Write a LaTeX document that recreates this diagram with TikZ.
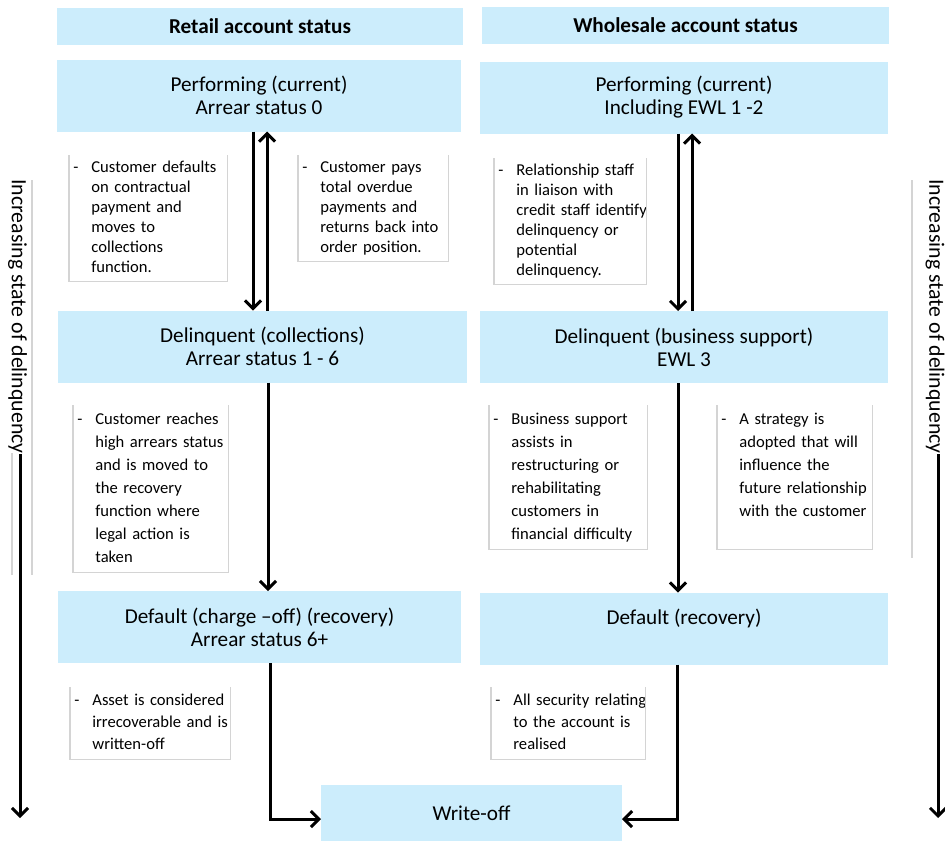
\documentclass[tikz,border=0pt]{standalone}
\usepackage{fontspec}
\setmainfont{Carlito}
\usepackage{xcolor}
\definecolor{stblue}{RGB}{204,237,252}
\definecolor{stgray}{RGB}{212,212,212}
\usetikzlibrary{arrows.meta}

\newcommand{\notelist}[1]{\begin{tabular}{@{}p{9pt}@{}l@{}}-&#1\end{tabular}}

\begin{document}
\begin{tikzpicture}[x=0.5pt, y=-0.5pt,
  sbox/.style={rectangle, fill=stblue, minimum width=#1, minimum height=36pt,
               inner sep=0pt, outer sep=0pt, align=center, font=\fontsize{10.6}{11.5}\selectfont},
  hbox/.style={sbox=#1, minimum height=18.5pt, font=\bfseries\fontsize{10.6}{12}\selectfont},
  note/.style={anchor=north west, text width=#1, align=left, inner xsep=2pt, inner ysep=1.5pt,
               font=\fontsize{8.3}{10}\selectfont},
  loose/.style={font=\fontsize{8.3}{#1}\selectfont},
  frame/.style={draw=stgray, line width=0.6pt},
  arr/.style={line width=1.5pt, -{Straight Barb[length=4pt,width=8pt]}},
  sidetxt/.style={rotate=-90, inner sep=0pt, font=\fontsize{10.9}{12}\selectfont}
]
\useasboundingbox (0,0) rectangle (945,841);

% Headers
\node[hbox=203pt] (rhead) at (260,26.5) {Retail account status};
\node[hbox=203.5pt] (whead) at (685.5,25.5) {Wholesale account status};

% Retail states
\node[sbox=202pt] (rperf) at (259,95.5) {Performing (current)\\Arrear status 0};
\node[sbox=204.5pt] (rdel) at (262.5,346.5) {Delinquent (collections)\\Arrear status 1 - 6};
\node[sbox=201.5pt] (rdef) at (259.5,627) {Default (charge --off) (recovery)\\Arrear status 6+};

% Wholesale states
\node[sbox=204pt] (wperf) at (684,97.5) {Performing (current)\\Including EWL 1 -2};
\node[sbox=204pt] (wdel) at (684,347) {Delinquent (business support)\\EWL 3};
\node[sbox=204pt] (wdef) at (684,628.5) {Default (recovery)\\\mbox{}};

% Write-off
\node[sbox=150.5pt, minimum height=28pt] (woff) at (471.5,813) {Write-off};

% Notes
\node[note=75pt] (rn1) at (69,155) {\notelist{Customer defaults\\&on contractual\\&payment and\\&moves to\\&collections\\&function.}};
\node[note=71pt] (rn2) at (298,155) {\notelist{Customer pays\\&total overdue\\&payments and\\&returns back into\\&order position.}};
\node[note=72pt] (wn1) at (494,158) {\notelist{Relationship staff\\&in liaison with\\&credit staff identify\\&delinquency or\\&potential\\&delinquency.}};
\node[note=73.5pt, loose=11.5pt] (rn3) at (73,405) {\notelist{Customer reaches\\&high arrears status\\&and is moved to\\&the recovery\\&function where\\&legal action is\\&taken}};
\node[note=75pt, loose=11.5pt] (wn2) at (489,405) {\notelist{Business support\\&assists in\\&restructuring or\\&rehabilitating\\&customers in\\&financial difficulty}};
\node[note=73.5pt, loose=11.5pt] (wn3) at (717,405) {\notelist{A strategy is\\&adopted that will\\&influence the\\&future relationship\\&with the customer\\&}};
\node[note=76pt, loose=11pt] (rn4) at (70,687) {\notelist{Asset is considered\\&irrecoverable and is\\&written-off}};
\node[note=73pt, loose=11pt] (wn4) at (491,687) {\notelist{All security relating\\&to the account is\\&realised}};

\foreach \n in {rn1,rn2,wn1,rn3,wn2,wn3,rn4,wn4}
  \draw[frame] (\n.north west) |- (\n.south east) -- (\n.north east);

% Retail flow
\draw[arr] ([xshift=-3pt]rperf.south) -- ([xshift=-3pt]rperf.south |- rdel.north);
\draw[arr] ([xshift=4pt]rperf.south |- rdel.north) -- ([xshift=4pt]rperf.south);
\draw[arr] ([xshift=2.75pt]rdel.south) -- ([xshift=2.75pt]rdel.south |- rdef.north);
\draw[arr] ([xshift=5.25pt]rdef.south) |- ([yshift=-3pt]woff.west);

% Wholesale flow
\draw[arr] ([xshift=-3pt]wperf.south) -- ([xshift=-3pt]wperf.south |- wdel.north);
\draw[arr] ([xshift=4pt]wperf.south |- wdel.north) -- ([xshift=4pt]wperf.south);
\draw[arr] ([xshift=-3pt]wdel.south) -- ([xshift=-3pt]wdel.south |- wdef.north);
\draw[arr] ([xshift=-3.5pt]wdef.south) |- ([yshift=-3pt]woff.east);

% Side labels
\node[sidetxt] (lside) at (17.5,316.5) {Increasing state of delinquency};
\node[sidetxt] (rside) at (935,316.5) {Increasing state of delinquency};
\coordinate (lend) at (20,818);
\coordinate (rend) at (938,818);
\draw[arr] (lend |- lside.east) -- (lend);
\draw[arr] (rend |- rside.east) -- (rend);
\draw[frame] (32,180) -- (32,575);
\draw[frame] (12,453) -- (12,575);
\draw[frame] (912,180) -- (912,558);
\end{tikzpicture}
\end{document}
